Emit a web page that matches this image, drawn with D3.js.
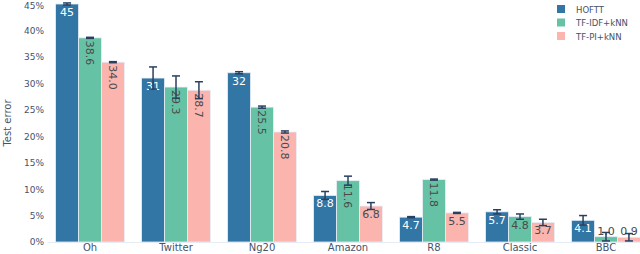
<!DOCTYPE html>
<html lang="en">
<head>
    <meta charset="UTF-8">
    <title>Test error</title>
    <script src="https://cdn.jsdelivr.net/npm/d3@7/dist/d3.min.js"></script>
    <style>
        body { margin: 0; background: #fff; }
        svg { display: block; font-family: "DejaVu Sans", sans-serif; }
    </style>
</head>
<body>
<div class="chart"></div>
<script>
    const width = 640
    const height = 254
    const margin = { top: 4, right: -9, bottom: 12, left: 47 }

    const categories = ['Oh', 'Twitter', 'Ng20', 'Amazon', 'R8', 'Classic', 'BBC']
    const seriesNames = ['HOFTT', 'TF-IDF+kNN', 'TF-PI+kNN']
    const colors = ['#3176a5', '#66c2a5', '#fbb4ae']

    // test error (%) per dataset
    const hofttValues = [45, 31, 32, 8.8, 4.7, 5.7, 4.1]
    const tfidfValues = [38.6, 29.3, 25.5, 11.6, 11.8, 4.8, 1.0]
    const tfpiValues = [34.0, 28.7, 20.8, 6.8, 5.5, 3.7, 0.9]
    // symmetric error bars (+/-)
    const hofttErr = [0.2, 2.1, 0.2, 0.75, 0.1, 0.4, 0.9]
    const tfidfErr = [0.1, 2.1, 0.2, 0.85, 0.1, 0.5, 0.8]
    const tfpiErr = [0.1, 1.6, 0.2, 0.65, 0.1, 0.6, 0.7]
    // labels as printed on the bars
    const hofttLabels = ['45', '31', '32', '8.8', '4.7', '5.7', '4.1']
    const tfidfLabels = ['38.6', '29.3', '25.5', '11.6', '11.8', '4.8', '1.0']
    const tfpiLabels = ['34.0', '28.7', '20.8', '6.8', '5.5', '3.7', '0.9']
    const yTicks = [0, 5, 10, 15, 20, 25, 30, 35, 40, 45]

    const series = [
        { name: seriesNames[0], values: hofttValues, err: hofttErr, labels: hofttLabels, textColor: '#fff' },
        { name: seriesNames[1], values: tfidfValues, err: tfidfErr, labels: tfidfLabels, textColor: '#4a4a4a' },
        { name: seriesNames[2], values: tfpiValues, err: tfpiErr, labels: tfpiLabels, textColor: '#4a4a4a' }
    ]

    const textColor = '#45536b'

    const svg = d3.select('.chart')
        .append('svg')
        .attr('width', width)
        .attr('height', height)

    const x0 = d3.scaleBand()
        .domain(categories)
        .range([margin.left, width - margin.right])
        .paddingInner(0.2)
        .paddingOuter(0.1)

    const x1 = d3.scaleBand()
        .domain(seriesNames)
        .range([0, x0.bandwidth()])

    const y = d3.scaleLinear()
        .domain([0, 45])
        .range([height - margin.bottom, margin.top])

    // y axis
    const yAxis = d3.axisLeft(y).tickValues(yTicks).tickFormat(d => d + '%').tickSize(0).tickPadding(2)
    const gy = svg.append('g')
        .attr('transform', `translate(${margin.left - 1}, 0)`)
        .call(yAxis)
    gy.select('.domain').remove()
    gy.selectAll('text').attr('fill', textColor).attr('font-size', 9).attr('font-family', '"DejaVu Sans", sans-serif')
    gy.selectAll('.tick').filter(d => d === 45).select('text').attr('dy', '0.45em')

    // x axis
    const xAxis = d3.axisBottom(x0).tickSize(0).tickPadding(2)
    const gx = svg.append('g')
        .attr('transform', `translate(0, ${height - margin.bottom})`)
        .call(xAxis)
    gx.select('.domain').attr('stroke', '#e5ecf6')
    gx.selectAll('text').attr('fill', textColor).attr('font-size', 10).attr('font-family', '"DejaVu Sans", sans-serif')

    svg.append('text')
        .attr('transform', `translate(11, ${(y(0) + y(45)) / 2}) rotate(-90)`)
        .attr('text-anchor', 'middle')
        .attr('fill', textColor)
        .attr('font-size', 10)
        .text('Test error')

    // bars
    const groups = svg.selectAll('.series')
        .data(series)
        .enter()
        .append('g')
        .attr('class', 'series')

    groups.each(function (s, si) {
        const g = d3.select(this)
        const bw = x1.bandwidth()
        categories.forEach((c, i) => {
            const bx = x0(c) + x1(s.name)
            const v = s.values[i]
            g.append('rect')
                .attr('x', bx)
                .attr('y', y(v))
                .attr('width', bw)
                .attr('height', y(0) - y(v))
                .attr('fill', colors[si])
                .attr('stroke', '#e8eef7')
                .attr('stroke-width', 0.8)

            // label
            const t = g.append('text')
                .attr('font-size', 11)
                .attr('fill', s.textColor)
                .text(s.labels[i])
            const tw = t.node().getComputedTextLength()
            const barH = y(0) - y(v)
            const cx = bx + bw / 2
            if (barH < 14) {
                t.attr('x', cx).attr('y', y(v) - 2)
                    .attr('text-anchor', 'middle').attr('fill', '#4a4a4a')
            } else if (tw + 4 > bw) {
                t.attr('transform', `translate(${cx - 4}, ${y(v) + 3}) rotate(90)`)
                    .attr('text-anchor', 'start')
            } else {
                t.attr('x', cx).attr('y', y(v) + 12)
                    .attr('text-anchor', 'middle')
            }

            // error bar
            const e = s.err[i]
            const eg = g.append('g').attr('stroke', '#2a3f5f').attr('stroke-width', 1.5)
            eg.append('line').attr('x1', cx).attr('x2', cx).attr('y1', y(v + e)).attr('y2', y(Math.max(0, v - e)))
            eg.append('line').attr('x1', cx - 4).attr('x2', cx + 4).attr('y1', y(v + e)).attr('y2', y(v + e))
            eg.append('line').attr('x1', cx - 4).attr('x2', cx + 4).attr('y1', y(Math.max(0, v - e))).attr('y2', y(Math.max(0, v - e)))
        })
    })

    // legend
    const legend = svg.append('g').attr('transform', 'translate(557, 5)')
    seriesNames.forEach((n, i) => {
        const row = legend.append('g').attr('transform', `translate(0, ${i * 13.5})`)
        row.append('rect').attr('width', 8).attr('height', 8).attr('fill', colors[i])
        row.append('text').attr('x', 19).attr('y', 7.5).attr('font-size', 8.5)
            .attr('fill', textColor).text(n)
    })
</script>
</body>
</html>
